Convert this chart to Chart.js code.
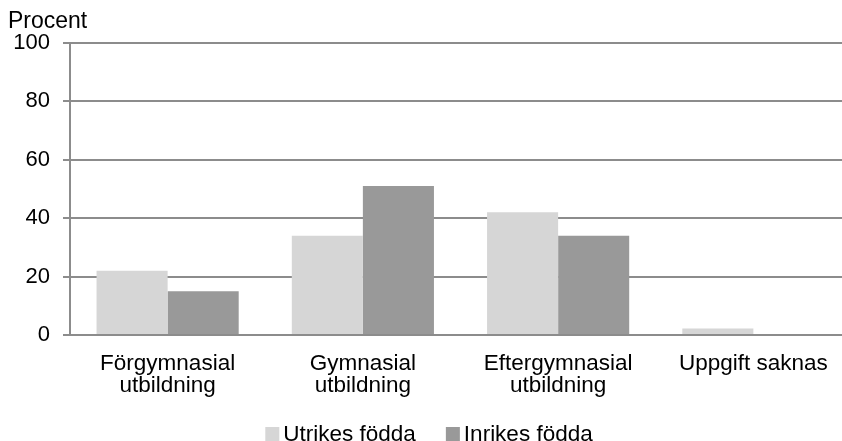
<!DOCTYPE html>
<html>
<head>
<meta charset="utf-8">
<script src="https://cdn.jsdelivr.net/npm/chart.js@4/dist/chart.umd.min.js"></script>
<style>
html,body{margin:0;padding:0;background:#fff;overflow:hidden;}
#wrap{width:842px;height:441px;overflow:hidden;}
</style>
</head>
<body>
<div id="wrap"><canvas id="c" width="851" height="441"></canvas></div>
<script>
const categories = [["Förgymnasial","utbildning"],["Gymnasial","utbildning"],["Eftergymnasial","utbildning"],"Uppgift saknas"];
const utrikes = [22, 34, 42, 2.2];
const inrikes = [15, 51, 34, 0];
const seriesNames = ["Utrikes födda", "Inrikes födda"];
const yTicks = [0, 20, 40, 60, 80, 100];
const yLabel = "Procent";

const FONT = "'Liberation Sans', Arial, sans-serif";
const FS = 22.5;
Chart.defaults.font.family = FONT;
Chart.defaults.color = '#000';

const extras = {
  id: 'extras',
  afterDraw(chart) {
    const ctx = chart.ctx;
    ctx.save();
    ctx.font = '23px ' + FONT;
    ctx.fillStyle = '#000';
    ctx.textBaseline = 'alphabetic';
    ctx.textAlign = 'left';
    ctx.fillText(yLabel, 8, 28);
    // legend
    ctx.font = FS + 'px ' + FONT;
    const ds = chart.data.datasets;
    const box = 14, gap = 4, between = 30;
    const widths = ds.map(d => box + gap + ctx.measureText(d.label).width);
    const total = widths.reduce((a, b) => a + b, 0) + between * (ds.length - 1);
    let x = (842 - total) / 2 + 8;
    ds.forEach((d, i) => {
      ctx.fillStyle = d.backgroundColor;
      ctx.fillRect(x, 427, box, box);
      ctx.fillStyle = '#000';
      ctx.fillText(d.label, x + box + gap, 441);
      x += widths[i] + between;
    });
    ctx.restore();
  }
};

new Chart(document.getElementById('c'), {
  type: 'bar',
  data: {
    labels: categories,
    datasets: [
      { label: seriesNames[0], data: utrikes, backgroundColor: '#d6d6d6', borderWidth: 0 },
      { label: seriesNames[1], data: inrikes, backgroundColor: '#999999', borderWidth: 0 }
    ]
  },
  options: {
    responsive: false,
    animation: false,
    devicePixelRatio: 1,
    layout: { padding: { top: 43, right: 0, left: 0, bottom: 0 } },
    plugins: { legend: { display: false }, tooltip: { enabled: false } },
    datasets: { bar: { categoryPercentage: 0.728, barPercentage: 1.0 } },
    scales: {
      x: {
        grid: { display: false },
        border: { display: false },
        ticks: { font: { size: FS, lineHeight: 0.97 }, color: '#000', padding: 10, maxRotation: 0, autoSkip: false },
        afterFit(s) { s.height = 106; }
      },
      y: {
        min: 0, max: 100,
        afterBuildTicks(s) { s.ticks = yTicks.map(v => ({ value: v })); },
        grid: { color: '#8c8c8c', lineWidth: 2, tickLength: 7, drawTicks: true },
        border: { color: '#8c8c8c', width: 2 },
        ticks: { font: { size: 22 }, color: '#000', padding: 13 },
        afterFit(s) { s.width = 70; }
      }
    }
  },
  plugins: [extras]
});
</script>
</body>
</html>
